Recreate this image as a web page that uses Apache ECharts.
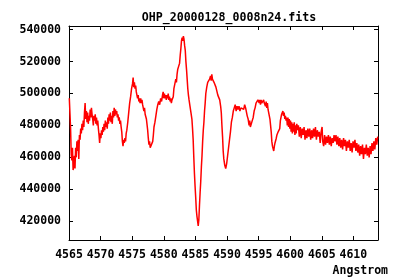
<!DOCTYPE html>
<html>
<head>
<meta charset="utf-8">
<script src="https://cdn.jsdelivr.net/npm/echarts@6/dist/echarts.min.js"></script>
<style>html,body{margin:0;padding:0;background:#fff}#c{width:400px;height:280px}</style>
</head>
<body>
<div id="c"></div>
<script>
var titleText = "OHP_20000128_0008n24.fits";
var xAxisName = "Angstrom";
var xTicks = [4565, 4570, 4575, 4580, 4585, 4590, 4595, 4600, 4605, 4610];
var yTicks = [420000, 440000, 460000, 480000, 500000, 520000, 540000];

var wavelength = [
4565.05,4565.15,4565.25,4565.35,4565.45,4565.55,4565.65,4565.75,4565.85,4565.95,
4566.05,4566.15,4566.25,4566.35,4566.45,4566.55,4566.65,4566.75,4566.85,4566.95,
4567.05,4567.15,4567.25,4567.35,4567.45,4567.55,4567.65,4567.75,4567.85,4567.95,
4568.05,4568.15,4568.25,4568.35,4568.45,4568.55,4568.65,4568.75,4568.85,4568.95,
4569.05,4569.15,4569.25,4569.35,4569.45,4569.55,4569.65,4569.75,4569.85,4569.95,
4570.05,4570.15,4570.25,4570.35,4570.45,4570.55,4570.65,4570.75,4570.85,4570.95,
4571.05,4571.15,4571.25,4571.35,4571.45,4571.55,4571.65,4571.75,4571.85,4571.95,
4572.05,4572.15,4572.25,4572.35,4572.45,4572.55,4572.65,4572.75,4572.85,4572.95,
4573.05,4573.15,4573.25,4573.35,4573.45,4573.55,4573.65,4573.75,4573.85,4573.95,
4574.05,4574.15,4574.3,4574.45,4574.6,4574.75,4574.9,4575.05,4575.15,4575.25,
4575.35,4575.45,4575.55,4575.65,4575.75,4575.85,4575.95,4576.05,4576.15,4576.25,
4576.35,4576.45,4576.55,4576.65,4576.75,4576.85,4576.95,4577.05,4577.15,4577.25,
4577.35,4577.45,4577.55,4577.65,4577.75,4577.85,4577.95,4578.05,4578.15,4578.25,
4578.35,4578.45,4578.6,4578.75,4578.9,4579.05,4579.2,4579.35,4579.5,4579.65,
4579.8,4579.9,4580.0,4580.1,4580.2,4580.3,4580.4,4580.5,4580.6,4580.7,
4580.8,4580.9,4581.0,4581.1,4581.2,4581.3,4581.4,4581.5,4581.6,4581.75,
4581.9,4582.0,4582.1,4582.2,4582.35,4582.5,4582.6,4582.7,4582.8,4582.9,
4583.0,4583.1,4583.2,4583.3,4583.4,4583.5,4583.6,4583.7,4583.8,4583.9,
4584.0,4584.15,4584.3,4584.45,4584.55,4584.65,4584.75,4584.85,4584.95,4585.05,
4585.15,4585.25,4585.35,4585.45,4585.55,4585.65,4585.75,4585.85,4585.95,4586.05,
4586.15,4586.25,4586.35,4586.45,4586.55,4586.65,4586.8,4586.95,4587.1,4587.25,
4587.4,4587.5,4587.6,4587.7,4587.8,4587.95,4588.1,4588.25,4588.4,4588.55,
4588.7,4588.85,4589.0,4589.1,4589.2,4589.3,4589.4,4589.5,4589.65,4589.8,
4589.95,4590.1,4590.25,4590.4,4590.55,4590.7,4590.85,4591.0,4591.15,4591.3,
4591.45,4591.6,4591.75,4591.9,4592.05,4592.2,4592.35,4592.5,4592.65,4592.8,
4592.95,4593.1,4593.2,4593.35,4593.5,4593.6,4593.7,4593.85,4594.0,4594.15,
4594.3,4594.45,4594.6,4594.75,4594.9,4595.0,4595.1,4595.2,4595.3,4595.4,
4595.5,4595.6,4595.7,4595.8,4595.9,4596.0,4596.1,4596.2,4596.3,4596.4,
4596.5,4596.6,4596.7,4596.8,4596.9,4597.0,4597.1,4597.2,4597.3,4597.4,
4597.5,4597.6,4597.7,4597.8,4597.9,4598.0,4598.1,4598.2,4598.35,4598.45,
4598.55,4598.65,4598.75,4598.85,4598.95,4599.05,4599.15,4599.25,4599.35,4599.45,
4599.55,4599.65,4599.75,4599.85,4599.95,4600.05,4600.15,4600.25,4600.35,4600.45,
4600.55,4600.65,4600.75,4600.85,4600.95,4601.05,4601.15,4601.3,4601.45,4601.6,
4601.75,4601.9,4602.05,4602.2,4602.35,4602.5,4602.65,4602.8,4602.95,4603.1,
4603.25,4603.4,4603.55,4603.7,4603.85,4604.0,4604.15,4604.3,4604.45,4604.6,
4604.75,4604.9,4605.05,4605.15,4605.3,4605.45,4605.6,4605.75,4605.9,4606.05,
4606.2,4606.35,4606.5,4606.65,4606.8,4606.95,4607.1,4607.25,4607.4,4607.55,
4607.7,4607.85,4608.0,4608.15,4608.3,4608.45,4608.6,4608.75,4608.9,4609.05,
4609.2,4609.35,4609.5,4609.65,4609.8,4609.95,4610.1,4610.25,4610.4,4610.55,
4610.7,4610.85,4611.0,4611.15,4611.3,4611.45,4611.6,4611.75,4611.9,4612.05,
4612.2,4612.35,4612.5,4612.65,4612.8,4612.95,4613.1,4613.25,4613.4,4613.55,
4613.7,4613.85
];

var flux = [
497000,498000,478000,462000,458000,466000,452000,455000,461000,453000,
466000,460000,470000,464000,471000,459000,474000,471000,478000,475000,
481000,477000,483000,479000,488000,494000,484000,489000,482000,488000,
481000,486000,483000,490000,485000,491000,487000,484000,480000,486000,
483000,487000,481000,485000,480000,483000,478000,474000,469000,475000,
472000,477000,474000,479000,476000,481000,477000,483000,479000,482000,
478000,485000,481000,487000,483000,488000,482000,486000,481000,489000,
485000,491000,486000,490000,487000,489000,485000,487000,483000,485000,
481000,483000,479000,476000,470000,467000,471000,469000,472000,470000,
475000,477000,482000,488000,494000,498000,503000,506000,510000,504000,
507000,503000,505000,501000,502000,497000,499000,495000,497000,494000,
497000,494000,496000,493000,492000,489000,491000,487000,488000,484000,
483000,477000,472000,468000,470000,466000,465000,467000,466000,470000,
474000,479000,482000,486000,490000,493000,495000,493000,497000,495000,
499000,501000,497000,500000,497000,499000,496000,499000,497000,500000,
496000,498000,495000,497000,494000,496000,497000,498000,503000,506000,
509000,507000,512000,515000,517000,519000,524000,528000,533000,535000,
533000,536000,534000,530000,527000,520000,515000,509000,503000,499000,
496000,492000,488000,484000,478000,471000,460000,450000,442000,435000,
427000,423000,420000,417000,421000,430000,438000,445000,454000,461000,
470000,477000,482000,489000,494000,500000,504000,507000,506000,509000,
511000,508000,512000,509000,510000,507000,508000,504000,503000,499000,
498000,496000,492000,488000,480000,473000,464000,459000,455000,453000,
456000,461000,466000,471000,476000,482000,485000,489000,491000,493000,
489000,492000,490000,492000,489000,491000,490000,492000,490000,493000,
491000,492000,486000,484000,480000,483000,479000,481000,483000,485000,
489000,491000,494000,493000,496000,497000,494000,496000,493000,496000,
494000,495000,493000,496000,494000,495000,492000,495000,491000,494000,
490000,488000,486000,484000,480000,476000,470000,467000,466000,464000,
467000,469000,470000,472000,474000,473000,476000,475000,478000,483000,
485000,487000,486000,489000,486000,488000,484000,486000,483000,485000,
480000,485000,479000,484000,478000,483000,476000,482000,475000,481000,
476000,482000,474000,480000,475000,481000,477000,480000,473000,479000,
472000,478000,474000,479000,471000,477000,472000,478000,473000,478000,
471000,477000,472000,478000,473000,479000,471000,477000,473000,476000,
469000,476000,479000,470000,467000,474000,468000,473000,469000,474000,
468000,473000,467000,472000,469000,474000,470000,474000,468000,473000,
467000,472000,466000,471000,465000,472000,467000,471000,464000,470000,
466000,471000,464000,469000,463000,470000,466000,471000,464000,469000,
463000,468000,461000,467000,462000,468000,459000,466000,462000,468000,
461000,466000,460000,467000,462000,469000,464000,470000,465000,472000,
468000,473000
];

var points = wavelength.map(function (w, i) { return [w, flux[i]]; });

var font = '"DejaVu Sans Mono", monospace';
var chart = echarts.init(document.getElementById('c'), null, {renderer: 'canvas'});
chart.setOption({
  animation: false,
  backgroundColor: '#ffffff',
  title: {
    text: titleText, left: 224, top: 7, textAlign: 'center',
    textStyle: {fontFamily: font, fontSize: 11.6, fontWeight: 'bold', color: '#000'}
  },
  graphic: [{
    type: 'text', right: 12, top: 265,
    style: {text: xAxisName, font: 'bold 11.5px "DejaVu Sans Mono", monospace', fill: '#000'}
  }],
  grid: {left: 69, right: 22, top: 26, bottom: 40, containLabel: false},
  xAxis: [{
    type: 'value', min: 4565, max: 4613.9, position: 'bottom',
    axisLine: {lineStyle: {color: '#000', width: 1}},
    axisTick: {inside: true, length: 4, lineStyle: {color: '#000'}, customValues: xTicks},
    axisLabel: {customValues: xTicks, margin: 9, fontFamily: font, fontSize: 11.5, fontWeight: 'bold', color: '#000', formatter: function (v) { return String(v); }},
    splitLine: {show: false}
  }, {
    type: 'value', min: 4565, max: 4613.9, position: 'top',
    axisLine: {lineStyle: {color: '#000', width: 1}},
    axisTick: {inside: true, length: 4, lineStyle: {color: '#000'}, customValues: xTicks},
    axisLabel: {show: false},
    splitLine: {show: false}
  }],
  yAxis: [{
    type: 'value', min: 408200, max: 542300, position: 'left',
    axisLine: {show: true, lineStyle: {color: '#000', width: 1}},
    axisTick: {show: true, inside: true, length: 4, lineStyle: {color: '#000'}, customValues: yTicks},
    axisLabel: {customValues: yTicks, margin: 8, fontFamily: font, fontSize: 11.5, fontWeight: 'bold', color: '#000', formatter: function (v) { return String(v); }},
    splitLine: {show: false}
  }, {
    type: 'value', min: 408200, max: 542300, position: 'right',
    axisLine: {show: true, lineStyle: {color: '#000', width: 1}},
    axisTick: {show: true, inside: true, length: 4, lineStyle: {color: '#000'}, customValues: yTicks},
    axisLabel: {show: false},
    splitLine: {show: false}
  }],
  series: [{
    type: 'line', data: points, xAxisIndex: 0, yAxisIndex: 0,
    showSymbol: false, symbol: 'none',
    lineStyle: {color: '#ff0000', width: 1.5},
    clip: true
  }]
});
</script>
</body>
</html>
